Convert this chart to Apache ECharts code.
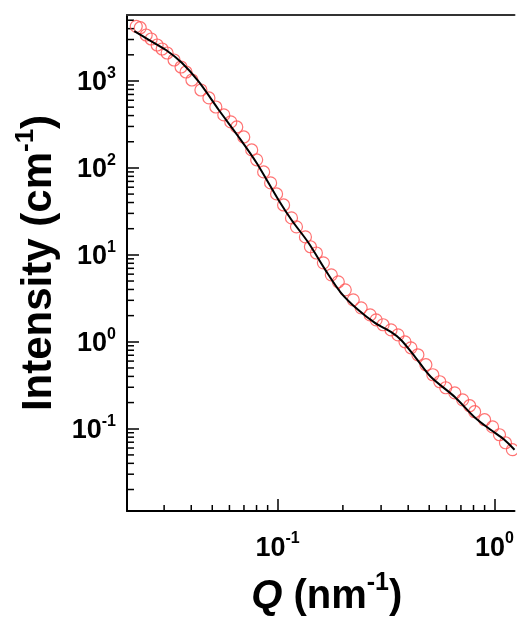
<!DOCTYPE html>
<html>
<head>
<meta charset="utf-8">
<script src="https://cdn.jsdelivr.net/npm/echarts@6/dist/echarts.min.js"></script>
<style>
  html, body { margin: 0; padding: 0; background: #fff; }
  #chart { width: 517px; height: 622px; }
</style>
</head>
<body>
<div id="chart"></div>
<script>
// measured points (open circles)
var qData = [0.02232, 0.02328, 0.02480, 0.02615, 0.02786, 0.02937, 0.03097, 0.03334, 0.03590, 0.03784,
  0.04030, 0.04433, 0.04826, 0.05194, 0.05652, 0.06087, 0.06486, 0.06985, 0.07600, 0.08011,
  0.08627, 0.09288, 0.09895, 0.1066, 0.1159, 0.1222, 0.1344, 0.1417, 0.1510, 0.1626,
  0.1769, 0.1905, 0.2051, 0.2232, 0.2428, 0.2671, 0.2846, 0.3064, 0.3334, 0.3590,
  0.3866, 0.4118, 0.4434, 0.4826, 0.5194, 0.5594, 0.5960, 0.6557, 0.7131, 0.7680,
  0.8096, 0.8999, 0.9793, 1.054, 1.123, 1.209];
var iData = [4250, 4100, 3378, 3039, 2593, 2332, 2098, 1743, 1448, 1269,
  1027, 788, 638, 502, 407, 338, 296, 227, 161, 124,
  89.9, 67.2, 50.2, 37.5, 26.6, 21.0, 16.1, 12.4, 10.5, 8.09,
  5.89, 4.90, 3.96, 3.04, 2.46, 2.04, 1.79, 1.57, 1.37, 1.20,
  1.00, 0.853, 0.709, 0.545, 0.418, 0.347, 0.296, 0.259, 0.215, 0.184,
  0.157, 0.127, 0.105, 0.0853, 0.0690, 0.0574];

// fitted curve
var fitQ = [0.02185, 0.0256, 0.0306, 0.0363, 0.0434, 0.0536, 0.0662, 0.0801, 0.101, 0.116,
  0.139, 0.166, 0.196, 0.235, 0.281, 0.333, 0.371, 0.430, 0.508, 0.656,
  0.811, 0.959, 1.11, 1.236];
var fitI = [3755, 2958, 2270, 1611, 975, 464, 227, 114, 42.8, 25.2,
  13.7, 6.72, 3.66, 2.33, 1.65, 1.30, 1.05, 0.673, 0.396, 0.232,
  0.135, 0.0974, 0.0748, 0.0574];

var xRange = [0.02023, 1.236];
var yRange = [0.01132, 5741];
var xExponents = [-1, 0];
var yExponents = [-1, 0, 1, 2, 3];
var minorSteps = [2, 3, 4, 5, 6, 7, 8, 9];

var FONT = '"Liberation Sans", Arial, sans-serif';

function minorTicks(range) {
  var out = [];
  var lo = Math.floor(Math.log10(range[0]));
  var hi = Math.ceil(Math.log10(range[1]));
  for (var e = lo; e <= hi; e++) {
    minorSteps.forEach(function (m) {
      var v = m * Math.pow(10, e);
      if (v > range[0] && v < range[1]) out.push(v);
    });
  }
  return out;
}

function powLabel(exps) {
  return function (v) {
    var l = Math.log10(v);
    var e = Math.round(l);
    if (Math.abs(l - e) > 1e-6 || exps.indexOf(e) < 0) return '';
    return '{b|10}{s|' + e + '}';
  };
}

var tickRich = {
  b: { fontFamily: FONT, fontSize: 27, fontWeight: 'bold', color: '#000', lineHeight: 31, verticalAlign: 'bottom' },
  s: { fontFamily: FONT, fontSize: 16, fontWeight: 'bold', color: '#000', lineHeight: 16, verticalAlign: 'top' }
};
var xTitleRich = {
  q: { fontFamily: FONT, fontSize: 40, fontWeight: 'bold', fontStyle: 'italic', color: '#000', lineHeight: 46, verticalAlign: 'bottom' },
  t: { fontFamily: FONT, fontSize: 40, fontWeight: 'bold', color: '#000', lineHeight: 46, verticalAlign: 'bottom' },
  s: { fontFamily: FONT, fontSize: 25, fontWeight: 'bold', color: '#000', lineHeight: 25, verticalAlign: 'top' }
};
var yTitleRich = {
  t: { fontFamily: FONT, fontSize: 42, fontWeight: 'bold', color: '#000', lineHeight: 48, verticalAlign: 'bottom' },
  s: { fontFamily: FONT, fontSize: 26, fontWeight: 'bold', color: '#000', lineHeight: 26, verticalAlign: 'top' }
};

var chart = echarts.init(document.getElementById('chart'));

var yMinor = minorTicks(yRange).map(function (v) { return [xRange[0], v]; });
var xMinor = minorTicks(xRange).map(function (v) { return [v, yRange[0]]; });

chart.setOption({
  animation: false,
  backgroundColor: '#fff',
  grid: { left: 127, top: 15, right: 0, bottom: 110 },
  xAxis: [{
    type: 'log', logBase: 10, min: xRange[0], max: xRange[1],
    name: '{q|Q}{t| (nm}{s|-1}{t|)}', nameLocation: 'middle', nameGap: 60,
    nameTextStyle: { rich: xTitleRich, padding: [0, 0, 0, 12] },
    axisLine: { lineStyle: { color: '#000', width: 2 } },
    axisTick: { inside: true, length: 12, lineStyle: { color: '#000', width: 1.5 } },
    axisLabel: { margin: 20, formatter: powLabel(xExponents), rich: tickRich, showMinLabel: false, showMaxLabel: false },
    splitLine: { show: false }
  }, {
    type: 'log', logBase: 10, min: xRange[0], max: xRange[1], position: 'top',
    axisLine: { lineStyle: { color: '#333', width: 2 } },
    axisTick: { show: false }, axisLabel: { show: false }, splitLine: { show: false }
  }],
  yAxis: {
    type: 'log', logBase: 10, min: yRange[0], max: yRange[1],
    name: '{t|Intensity (cm}{s|-1}{t|)}', nameLocation: 'middle', nameGap: 58,
    nameTextStyle: { rich: yTitleRich },
    axisLine: { lineStyle: { color: '#000', width: 2 } },
    axisTick: { inside: true, length: 12, lineStyle: { color: '#000', width: 1.5 } },
    axisLabel: { margin: 11, formatter: powLabel(yExponents), rich: tickRich, showMinLabel: false, showMaxLabel: false },
    splitLine: { show: false }
  },
  series: [{
    type: 'custom',
    data: yMinor,
    clip: false,
    silent: true,
    renderItem: function (params, api) {
      var p = api.coord([api.value(0), api.value(1)]);
      var x0 = params.coordSys.x;
      return { type: 'line', shape: { x1: x0, y1: p[1], x2: x0 + 7, y2: p[1] }, style: { stroke: '#000', lineWidth: 1.5 } };
    }
  }, {
    type: 'custom',
    data: xMinor,
    clip: false,
    silent: true,
    renderItem: function (params, api) {
      var p = api.coord([api.value(0), api.value(1)]);
      var y0 = params.coordSys.y + params.coordSys.height;
      return { type: 'line', shape: { x1: p[0], y1: y0, x2: p[0], y2: y0 - 6 }, style: { stroke: '#000', lineWidth: 1.5 } };
    }
  }, {
    type: 'scatter',
    data: qData.map(function (q, i) { return [q, iData[i]]; }),
    symbol: 'circle',
    symbolSize: 12,
    itemStyle: { color: 'rgba(255,255,255,0)', borderColor: '#ff5050', borderWidth: 1.2 },
    z: 3
  }, {
    type: 'line',
    data: fitQ.map(function (q, i) { return [q, fitI[i]]; }),
    showSymbol: false,
    smooth: 0.3,
    lineStyle: { color: '#000', width: 2 },
    z: 4
  }]
});
</script>
</body>
</html>
